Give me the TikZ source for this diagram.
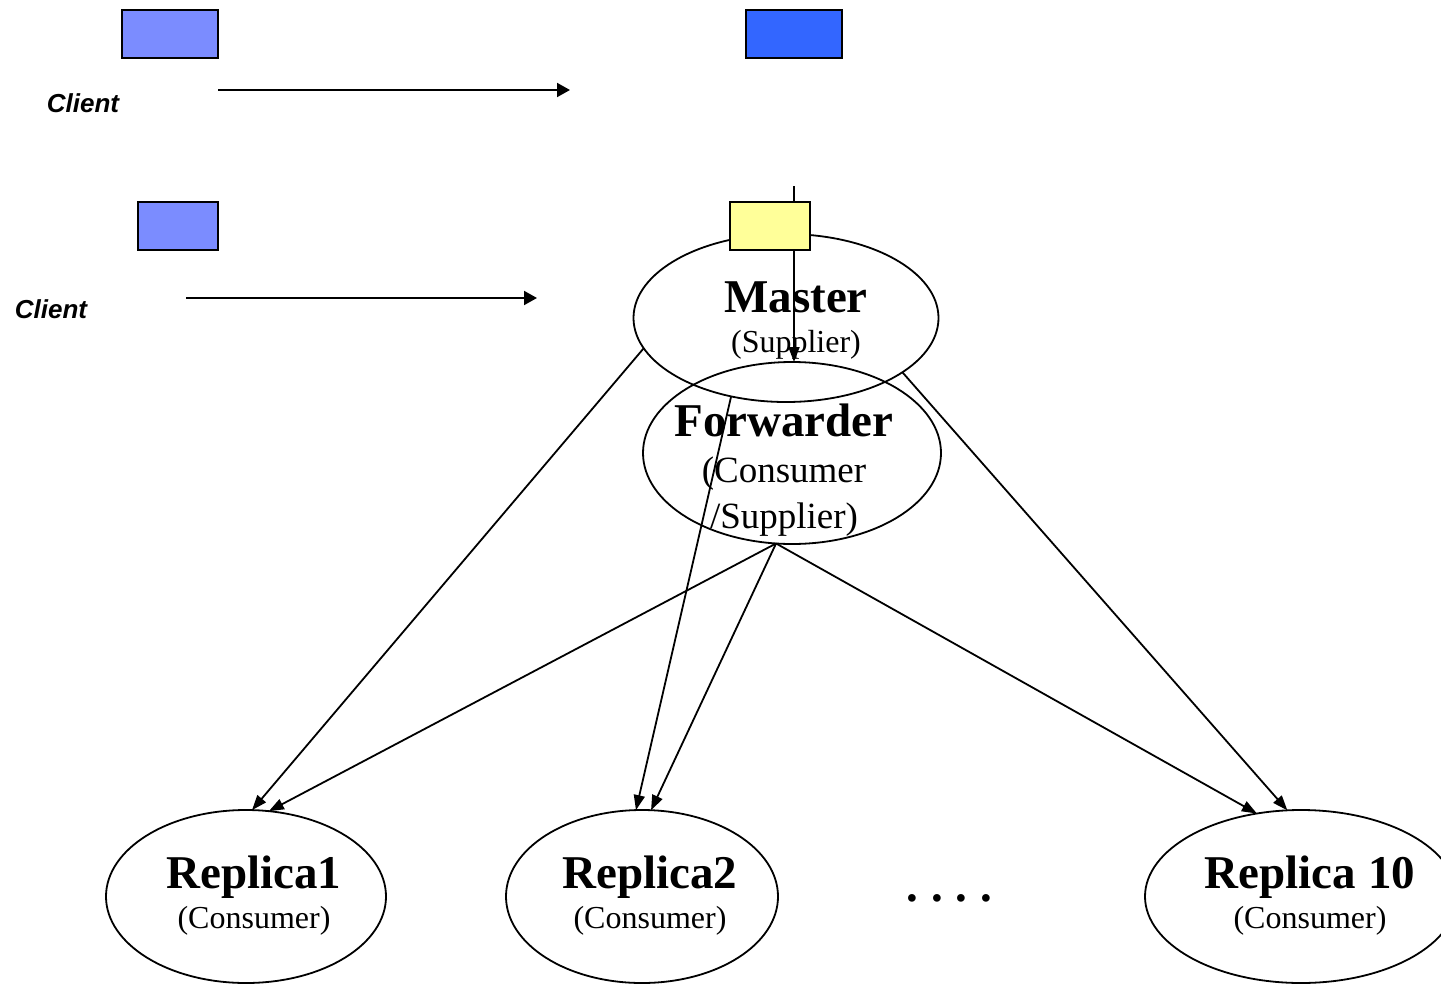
\documentclass[tikz,border=0pt]{standalone}
\usepackage{fontspec}
\setmainfont{Liberation Serif}
\newfontfamily\clientfont{Liberation Sans}
\usepackage{tikz}
\usetikzlibrary{arrows.meta,shapes.geometric}
\definecolor{lav}{HTML}{7B8CFF}
\definecolor{royal}{HTML}{3366FF}
\definecolor{pale}{HTML}{FFFF99}
\newcommand{\nodehead}[1]{{\bfseries\fontsize{23.5}{20}\selectfont #1}}

\begin{document}
\begin{tikzpicture}[x=0.5pt,y=-0.5pt,
cbox/.style={draw=black,line width=0.9pt,minimum width=#1,minimum height=24pt,inner sep=0pt},
hub/.style={draw,ellipse,line width=0.9pt,inner sep=0pt,outer sep=0pt},
ttl/.style={align=center,inner sep=0pt,font=\fontsize{16}{20}\selectfont},
cli/.style={anchor=base,inner sep=0pt,font=\clientfont\bfseries\itshape\fontsize{13}{15}\selectfont},
arrc/.style={line width=1pt,-{Triangle[length=6.5pt,width=7pt]}},
arrr/.style={line width=0.9pt,-{Triangle[length=7.5pt,width=5.5pt]}}
]
\useasboundingbox (0,0) rectangle (1441,985);
\clip (0,0) rectangle (1441,985);
% ellipses
\node[hub,minimum width=152.5pt,minimum height=84pt] (master) at (786,318) {};
\node[hub,minimum width=149pt,minimum height=91pt] (fwd) at (792,453) {};
\node[hub,minimum width=140pt,minimum height=86.5pt] (r1) at (246,896.5) {};
\node[hub,minimum width=136pt,minimum height=86.5pt] (r2) at (642,896.5) {};
\node[hub,minimum width=156pt,minimum height=86.5pt] (r10) at (1301,896.5) {};
\node[ttl] (mastertxt) at (796,321) {\nodehead{Master}\\(Supplier)};
\node[ttl,font=\fontsize{18.5}{23}\selectfont] (fwdtxt) at (784,470) {\nodehead{Forwarder}\\(Consumer\\/Supplier)};
\node[ttl] (r1txt) at (254,896) {\nodehead{Replica1}\\(Consumer)};
\node[ttl] (r2txt) at (650,896) {\nodehead{Replica2}\\(Consumer)};
\node[ttl] (r10txt) at (1310,896) {\nodehead{Replica 10}\\(Consumer)};
\node[anchor=base,font=\bfseries\fontsize{23.5}{20}\selectfont] (dots) at (949.5,901) {.\kern6.4pt.\kern6.4pt.\kern6.4pt.};
% clients
\node[cbox=48pt,fill=lav] (pc1) at (170,34) {};
\node[cbox=48pt,fill=royal] (pc2) at (794,34) {};
\node[cbox=40pt,fill=lav] (pc3) at (178,226) {};
\node[cli] (cl1) at (83,112) {Client};
\node[cli] (cl2) at (51,318) {Client};
\coordinate (a1s) at (218,90);
\coordinate (a1e) at (570,90);
\coordinate (a2s) at (186,298);
\coordinate (a2e) at (537,298);
\coordinate (feed) at (794,186);
\draw[arrc] (a1s)--(a1e);
\draw[arrc] (a2s)--(a2e);
\draw[arrr] (feed)--(feed |- fwd.north);
\node[cbox=40pt,fill=pale] (queue) at (770,226) {};
% fan out to replicas
\draw[arrr] (master.192)--(r1.86);
\draw[arrr] (fwd.260)--(r1.75);
\draw[arrr] (master.235)--(r2.94);
\draw[arrr] (fwd.260)--(r2.84);
\draw[arrr] (fwd.260)--(r10.118);
\draw[arrr] (master.-25)--(r10.99);
\end{tikzpicture}
\end{document}
